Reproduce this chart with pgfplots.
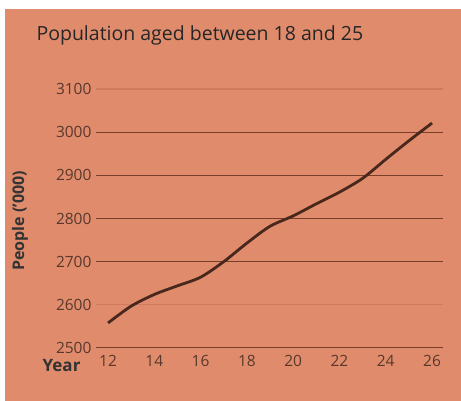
\documentclass[border=0pt]{standalone}
\usepackage{pgfplots}
\pgfplotsset{compat=1.18}
\usepackage{fontspec}
\setmainfont{Open Sans}
\definecolor{bgc}{RGB}{224,140,108}
\definecolor{gridc}{RGB}{120,62,42}
\definecolor{gridlc}{RGB}{210,122,94}
\definecolor{curvec}{RGB}{72,40,28}
\definecolor{tickc}{RGB}{88,56,44}
\begin{document}
\begin{tikzpicture}
\path[use as bounding box,fill=white] (0pt,0pt) rectangle (461pt,401pt);
\fill[bgc] (5pt,0pt) rectangle (461pt,392pt);
\node[anchor=base west,font=\fontsize{19.5}{22}\selectfont,text=black!85] at (33pt,360pt) {Population aged between 18 and 25};
\node[rotate=90,font=\bfseries\fontsize{16}{18}\selectfont,text=black!80] at (20pt,180pt) {People ('000)};
\node[anchor=base east,font=\bfseries\fontsize{17}{19}\selectfont,text=black!80] at (84pt,29pt) {Year};
\begin{axis}[
  at={(96pt,53pt)}, anchor=south west,
  scale only axis, width=347pt, height=259pt,
  xmin=11.48, xmax=26.475, ymin=2500, ymax=3100,
  axis line style={draw=none},
  major tick length=0pt,
  xtick={12,14,...,26},
  ytick={2500,2700,2800,2900,3000},
  extra y ticks={2600,3100},
  extra y tick style={ymajorgrids, major grid style={gridlc, line width=1.2pt}},
  ymajorgrids, major grid style={gridc, line width=1pt},
  /pgf/number format/assume math mode=true,
  /pgf/number format/1000 sep={},
  ticklabel style={font=\fontsize{15.5}{17}\selectfont, text=tickc},
  yticklabel style={xshift=-1pt},
  xticklabel style={yshift=-4pt},
]
\addplot[curvec, line width=2.8pt, smooth] coordinates {
(12,2558) (13,2597) (14,2624) (15,2644) (16,2664) (17,2700) (18,2743) (19,2782)
(20,2806) (21,2834) (22,2861) (23,2893) (24,2937) (25,2980) (26,3021)};
\end{axis}
\end{tikzpicture}
\end{document}
